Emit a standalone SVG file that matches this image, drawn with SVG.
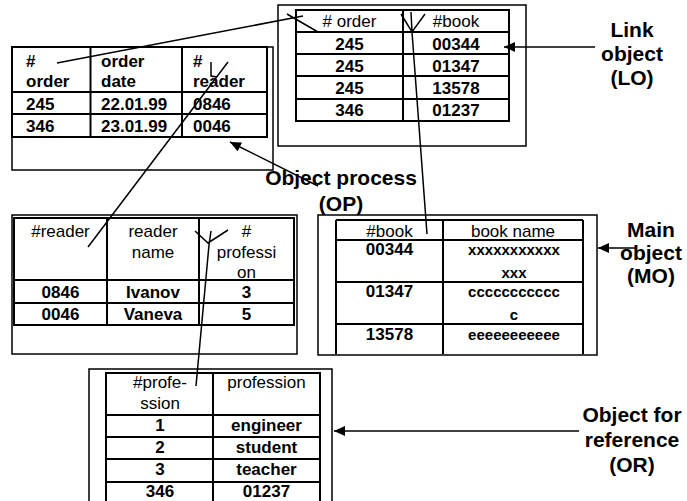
<svg xmlns="http://www.w3.org/2000/svg" width="687" height="501" viewBox="0 0 687 501">
<style>
.box{fill:none;stroke:#000;stroke-width:1.5}
.tb{fill:none;stroke:#000;stroke-width:2}
.t{font-family:"Liberation Sans",Arial,sans-serif;font-size:17px;fill:#000}
.b{font-weight:bold}
.c{text-anchor:middle}
.s{font-size:15px}
.lbl{font-family:"Liberation Sans",Arial,sans-serif;font-size:21px;font-weight:bold;text-anchor:middle;fill:#000}
.con{stroke:#000;stroke-width:1.5;fill:none}
</style>
<defs>
<marker id="arr" markerUnits="userSpaceOnUse" markerWidth="12" markerHeight="10" refX="11" refY="5" orient="auto">
<path d="M0,0 L11,5 L0,10 z" fill="#000"/>
</marker>
</defs>
<rect width="687" height="501" fill="#fff"/>

<g id="link-object">
<rect class="box" x="278" y="5" width="248" height="141"/>
<rect class="tb" x="296" y="10" width="213" height="111"/>
<path class="tb" d="M403,10V121M296,32H509M296,54H509M296,76H509M296,99H509"/>
<text class="t c" x="349.5" y="27"># order</text>
<text class="t c" x="456" y="27">#book</text>
<text class="t b c" x="349.5" y="50">245</text><text class="t b c" x="456" y="50">00344</text>
<text class="t b c" x="349.5" y="72">245</text><text class="t b c" x="456" y="72">01347</text>
<text class="t b c" x="349.5" y="94">245</text><text class="t b c" x="456" y="94">13578</text>
<text class="t b c" x="349.5" y="116">346</text><text class="t b c" x="456" y="116">01237</text>
</g>

<g id="order">
<rect class="box" x="12" y="47" width="261" height="123"/>
<rect class="tb" x="12" y="47" width="255" height="90"/>
<path class="tb" d="M90.5,47V137M182,47V137M12,92H267M12,114H267"/>
<text class="t b" x="26" y="67">#</text><text class="t b" x="26" y="87">order</text>
<text class="t b" x="101" y="67">order</text><text class="t b" x="101" y="87">date</text>
<text class="t b" x="193" y="67">#</text><text class="t b" x="193" y="87">reader</text>
<text class="t b" x="26" y="110">245</text><text class="t b" x="101" y="110">22.01.99</text><text class="t b" x="193" y="110">0846</text>
<text class="t b" x="26" y="132">346</text><text class="t b" x="101" y="132">23.01.99</text><text class="t b" x="193" y="132">0046</text>
</g>

<g id="reader">
<rect class="box" x="12" y="215" width="285" height="139"/>
<rect class="tb" x="14" y="218" width="280" height="107"/>
<path class="tb" d="M107,218V325M199,218V325M14,280H294M14,303H294"/>
<text class="t c" x="60.5" y="237">#reader</text>
<text class="t c" x="153" y="237">reader</text><text class="t c" x="153" y="258">name</text>
<text class="t c" x="246.5" y="237">#</text><text class="t c" x="246.5" y="258">professi</text><text class="t c" x="246.5" y="278">on</text>
<text class="t b c" x="60.5" y="298">0846</text><text class="t b c" x="153" y="298">Ivanov</text><text class="t b c" x="246.5" y="298">3</text>
<text class="t b c" x="60.5" y="320">0046</text><text class="t b c" x="153" y="320">Vaneva</text><text class="t b c" x="246.5" y="320">5</text>
</g>

<g id="book">
<rect class="box" x="318" y="215" width="279" height="140"/>
<path class="tb" d="M336,220H583M336,220V354M443,220V354M583,220V354M336,240H583M336,282H583M336,324H583"/>
<text class="t c" x="389.5" y="237">#book</text>
<text class="t c" x="513" y="237">book name</text>
<text class="t b c" x="389.5" y="255">00344</text>
<text class="t b c s" x="514" y="255">xxxxxxxxxxx</text>
<text class="t b c s" x="514" y="278">xxx</text>
<text class="t b c" x="389.5" y="297">01347</text>
<text class="t b c s" x="514" y="297">ccccccccccc</text>
<text class="t b c s" x="514" y="320">c</text>
<text class="t b c" x="389.5" y="340">13578</text>
<text class="t b c s" x="514" y="340">eeeeeeeeeee</text>
</g>

<g id="profession">
<rect class="box" x="89" y="369" width="243" height="140"/>
<rect class="tb" x="106" y="373" width="214" height="131"/>
<path class="tb" d="M213,373V504M106,415H320M106,437H320M106,459H320M106,482H320"/>
<text class="t c" x="160" y="388">#profe-</text><text class="t c" x="160" y="409">ssion</text>
<text class="t c" x="266.5" y="388">profession</text>
<text class="t b c" x="160" y="431">1</text><text class="t b c" x="266.5" y="431">engineer</text>
<text class="t b c" x="160" y="453">2</text><text class="t b c" x="266.5" y="453">student</text>
<text class="t b c" x="160" y="475">3</text><text class="t b c" x="266.5" y="475">teacher</text>
<text class="t b c" x="160" y="497">346</text><text class="t b c" x="266.5" y="497">01237</text>
</g>

<g id="labels">
<text class="lbl" x="632" y="37">Link</text>
<text class="lbl" x="632" y="61">object</text>
<text class="lbl" x="632" y="85">(LO)</text>
<text class="lbl" x="341" y="185">Object process</text>
<text class="lbl" x="341" y="211">(OP)</text>
<text class="lbl" x="651" y="237">Main</text>
<text class="lbl" x="651" y="260">object</text>
<text class="lbl" x="651" y="283">(MO)</text>
<text class="lbl" x="632" y="422">Object for</text>
<text class="lbl" x="632" y="447">reference</text>
<text class="lbl" x="632" y="472">(OR)</text>
</g>

<g id="connectors">
<path class="con" d="M57,63L303,16M287,14L318,32"/>
<path class="con" d="M401,14L412,32L425,14M411,12L412,32L427,234"/>
<path class="con" d="M228,62L88,247M211,62L211,76L217,77"/>
<path class="con" d="M195,231L208,243L228,230M211,231L209,245L196,386"/>
<path class="con" d="M595,47H504" marker-end="url(#arr)"/>
<path class="con" d="M636,248H598" marker-end="url(#arr)"/>
<path class="con" d="M318,186L230,142" marker-end="url(#arr)"/>
<path class="con" d="M579,431H334" marker-end="url(#arr)"/>
</g>
</svg>
